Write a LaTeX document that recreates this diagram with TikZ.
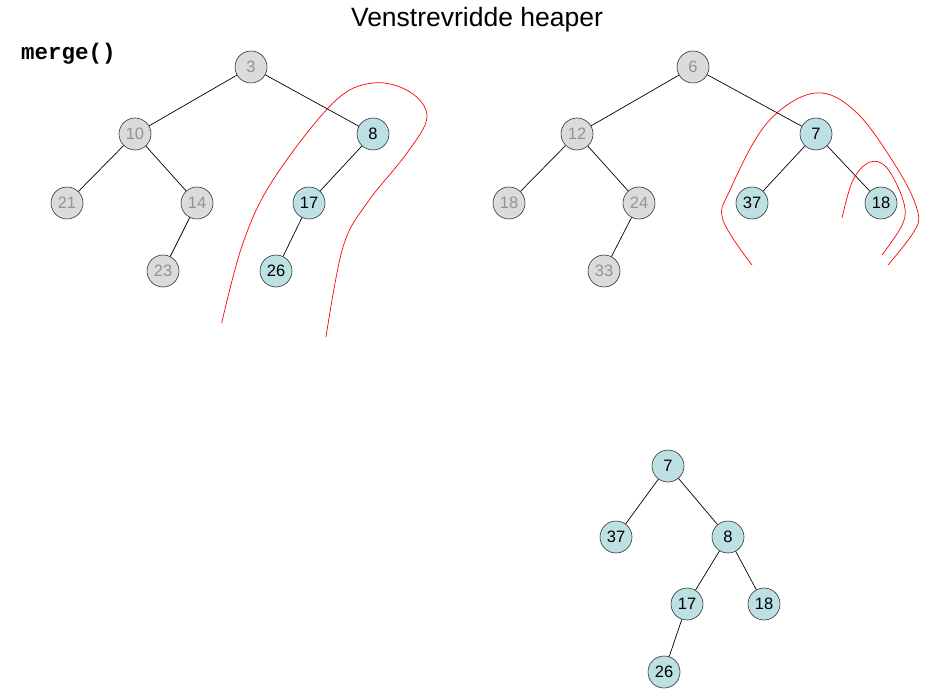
\documentclass[tikz,border=0pt]{standalone}
\usepackage{fontspec}
\setmainfont{Liberation Sans}
\newfontfamily\monofnt{Liberation Mono}
\begin{document}
\begin{tikzpicture}[x=1pt,y=-1pt,
  gnode/.style={circle,draw=black!80,line width=0.6pt,fill=gray!28,text=gray!85,minimum size=32pt,inner sep=0pt,font=\fontsize{16.5}{16.5}\selectfont},
  bnode/.style={circle,draw=black!80,line width=0.6pt,fill={rgb,255:red,188;green,224;blue,227},text=black,minimum size=32pt,inner sep=0pt,font=\fontsize{16.5}{16.5}\selectfont},
  edge/.style={draw=black,line width=0.7pt},
  redline/.style={draw=red,line width=0.7pt}]
\useasboundingbox (0,0) rectangle (944,700);
\node[font=\fontsize{26.5}{26.5}\selectfont] (title) at (477,20) {Venstrevridde heaper};
\node[anchor=west,inner sep=0pt,font=\monofnt\bfseries\fontsize{22.5}{22.5}\selectfont] (merge) at (21,54) {merge()};
% left tree
\node[gnode] (a3) at (251,67) {3};
\node[gnode] (a10) at (135,134) {10};
\node[bnode] (a8) at (373,134) {8};
\node[gnode] (a21) at (67,203) {21};
\node[gnode] (a14) at (197,203) {14};
\node[bnode] (a17) at (309,203) {17};
\node[gnode] (a23) at (163,271) {23};
\node[bnode] (a26) at (276,271) {26};
\draw[edge] (a3) -- (a10);
\draw[edge] (a3) -- (a8);
\draw[edge] (a10) -- (a21);
\draw[edge] (a10) -- (a14);
\draw[edge] (a14) -- (a23);
\draw[edge] (a8) -- (a17);
\draw[edge] (a17) -- (a26);
% right tree
\node[gnode] (b6) at (693,67) {6};
\node[gnode] (b12) at (577,134) {12};
\node[bnode] (b7) at (816,134) {7};
\node[gnode] (b18) at (509,203) {18};
\node[gnode] (b24) at (639,203) {24};
\node[bnode] (b37) at (752,203) {37};
\node[bnode] (b18b) at (881,203) {18};
\node[gnode] (b33) at (604,271) {33};
\draw[edge] (b6) -- (b12);
\draw[edge] (b6) -- (b7);
\draw[edge] (b12) -- (b18);
\draw[edge] (b12) -- (b24);
\draw[edge] (b24) -- (b33);
\draw[edge] (b7) -- (b37);
\draw[edge] (b7) -- (b18b);
% bottom tree
\node[bnode] (c7) at (668,466) {7};
\node[bnode] (c37) at (616,537) {37};
\node[bnode] (c8) at (728,537) {8};
\node[bnode] (c17) at (687,604) {17};
\node[bnode] (c18) at (764,604) {18};
\node[bnode] (c26) at (664,672) {26};
\draw[edge] (c7) -- (c37);
\draw[edge] (c7) -- (c8);
\draw[edge] (c8) -- (c17);
\draw[edge] (c8) -- (c18);
\draw[edge] (c17) -- (c26);
% red curves
\draw[redline] plot[smooth,tension=0.6] coordinates {(221.7,323) (243,243) (273,180) (333,103) (373,83) (410,92) (427,117) (407,153) (367,203) (343,247) (326,337)};
\draw[redline] plot[smooth,tension=0.6] coordinates {(752,265) (723,220) (730,190) (767,123) (815,93) (857,113) (900,173) (918,213) (913,233) (888,265)};
\draw[redline] plot[smooth,tension=0.6] coordinates {(842,218) (853,180) (870,162) (887,168) (903,200) (903,223) (882,255)};
\end{tikzpicture}
\end{document}
